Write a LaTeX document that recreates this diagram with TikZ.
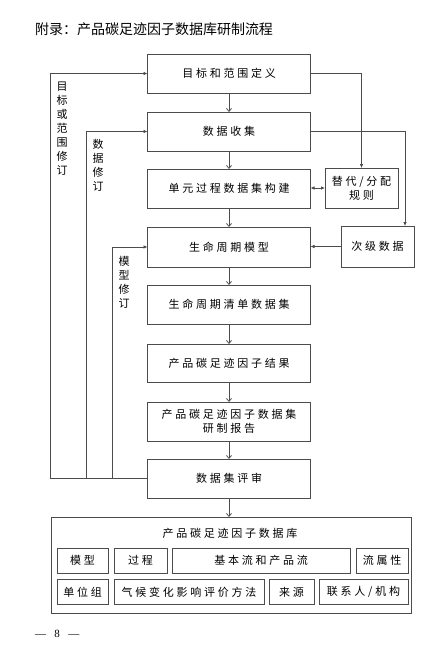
\documentclass[tikz,border=0pt]{standalone}
\usepackage{fontspec}
\setmainfont{Liberation Serif}
\newfontfamily\cjk[LetterSpace=25]{Noto Sans CJK SC}
\newfontfamily\cjktitle{Noto Sans CJK SC}
\usetikzlibrary{arrows.meta}
\begin{document}
\begin{tikzpicture}[x=1pt,y=-1pt,
  every node/.style={inner sep=0pt,outer sep=0pt},
  boxm/.style={draw=black!70,line width=0.75pt,minimum width=163pt,minimum height=39pt,font=\cjk\fontsize{11}{14}\selectfont,align=center},
  boxs/.style={draw=black!70,line width=0.75pt,minimum height=40pt,font=\cjk\fontsize{11}{14}\selectfont,align=center},
  cell/.style={draw=black!70,line width=0.75pt,minimum height=25pt,font=\cjk\fontsize{11}{14}\selectfont},
  vlab/.style={font=\cjktitle\fontsize{11}{14}\selectfont,align=center},
  line/.style={draw=black!70,line width=0.75pt},
  arrd/.style={line,-{Straight Barb[length=3pt,width=5pt]}},
  arrf/.style={line,-{Latex[length=4pt,width=3.5pt]}},
  arrb/.style={line,{Latex[length=4pt,width=3.5pt]}-{Latex[length=4pt,width=3.5pt]}}]
\useasboundingbox (0,0) rectangle (443,651);
\fill[white] (0,0) rectangle (443,651);

\node[anchor=west,font=\cjktitle\fontsize{14}{16}\selectfont] (title) at (35,29) {附录：产品碳足迹因子数据库研制流程};

\node[boxm] (b1) at (229,73.5) {目标和范围定义};
\node[boxm] (b2) at (229,131.5) {数据收集};
\node[boxm] (b3) at (229,188.5) {单元过程数据集构建};
\node[boxs,minimum width=73pt] (rule) at (361.5,188) {替代/分配\\规则};
\node[boxm,minimum height=40pt] (b4) at (229,247) {生命周期模型};
\node[boxs,minimum width=73pt,minimum height=41pt] (sec) at (377.5,246.5) {次级数据};
\node[boxm] (b5) at (229,304.5) {生命周期清单数据集};
\node[boxm,minimum height=38pt] (b6) at (229,363) {产品碳足迹因子结果};
\node[boxm] (b7) at (229,421.5) {产品碳足迹因子数据集\\研制报告};
\node[boxm] (b8) at (229,478.5) {数据集评审};

\node[draw=black!70,line width=0.75pt,minimum width=360pt,minimum height=96pt] (db) at (231,565) {};
\node[font=\cjk\fontsize{11}{14}\selectfont] (dbt) at (230,533) {产品碳足迹因子数据库};
\node[cell,minimum width=51pt] (c1) at (82.5,560.5) {模型};
\node[cell,minimum width=53pt] (c2) at (140.5,560.5) {过程};
\node[cell,minimum width=178pt] (c3) at (261,560.5) {基本流和产品流};
\node[cell,minimum width=52pt] (c4) at (382,560.5) {流属性};
\node[cell,minimum width=51pt] (c5) at (82.5,592) {单位组};
\node[cell,minimum width=150pt] (c6) at (189,592) {气候变化影响评价方法};
\node[cell,minimum width=45pt] (c7) at (291.5,592) {来源};
\node[cell,minimum width=89pt] (c8) at (363.5,592) {联系人/机构};

% main flow
\draw[arrd] (b1) -- (b2);
\draw[arrd] (b2) -- (b3);
\draw[arrd] (b3) -- (b4);
\draw[arrd] (b4) -- (b5);
\draw[arrd] (b5) -- (b6);
\draw[arrd] (b6) -- (b7);
\draw[arrd] (b7) -- (b8);
\draw[arrd] (b8.south) -- (b8.south |- db.north);

% right side
\draw[arrf] (b1.east) -| (rule.north);
\coordinate (r2) at (405,131.5);
\draw[arrf] (b2.east) -- (r2) -- (r2 |- sec.north);
\draw[arrb] (b3.east |- rule.west) -- (rule.west);
\draw[arrf] (sec.west) -- (sec.west -| b4.east);

% left loops
\coordinate (L1) at (50,478.5);
\coordinate (L2) at (86,478.5);
\coordinate (L3) at (112,478.5);
\draw[line] (b8.west) -- (L1);
\draw[arrf] (L1) |- (b1.west);
\draw[arrf] (L2) |- (b2.west);
\draw[arrf] (L3) |- (b4.west);

\node[vlab] (v1) at (62,128.5) {目\\标\\或\\范\\围\\修\\订};
\node[vlab] (v2) at (98,165) {数\\据\\修\\订};
\node[vlab] (v3) at (124,282.5) {模\\型\\修\\订};

\node[anchor=west,font=\fontsize{11}{13}\selectfont] (pg) at (35,634) {—\hspace{8.5pt}8\hspace{8.5pt}—};
\end{tikzpicture}
\end{document}
